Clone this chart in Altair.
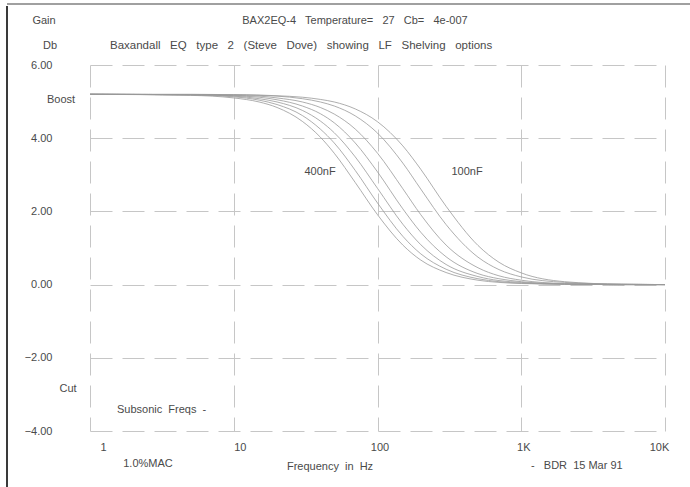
import altair as alt
import pandas as pd

# ---- data ----
freqs = [1, 5, 10, 15, 20, 30, 40, 50, 70, 100, 150, 200, 300, 500, 700, 1000, 2000, 5000, 10000]
cap_labels = ["400nF", "350nF", "300nF", "250nF", "200nF", "150nF", "100nF"]
gain_400 = [5.20, 5.17, 5.10, 4.99, 4.84, 4.46, 4.03, 3.59, 2.79, 1.91, 1.08, 0.67, 0.33, 0.12, 0.06, 0.03, 0.01, 0.00, 0.00]
gain_350 = [5.20, 5.18, 5.13, 5.04, 4.92, 4.62, 4.25, 3.87, 3.12, 2.23, 1.32, 0.84, 0.42, 0.16, 0.08, 0.04, 0.01, 0.00, 0.00]
gain_300 = [5.20, 5.19, 5.15, 5.08, 4.99, 4.76, 4.47, 4.15, 3.49, 2.63, 1.65, 1.09, 0.55, 0.22, 0.11, 0.06, 0.01, 0.00, 0.00]
gain_250 = [5.20, 5.19, 5.16, 5.12, 5.05, 4.88, 4.67, 4.42, 3.87, 3.08, 2.07, 1.43, 0.76, 0.30, 0.16, 0.08, 0.02, 0.00, 0.00]
gain_200 = [5.20, 5.19, 5.17, 5.15, 5.10, 4.99, 4.84, 4.66, 4.25, 3.59, 2.62, 1.91, 1.08, 0.46, 0.24, 0.12, 0.03, 0.01, 0.00]
gain_150 = [5.20, 5.19, 5.19, 5.17, 5.15, 5.08, 4.99, 4.88, 4.61, 4.14, 3.32, 2.61, 1.64, 0.75, 0.41, 0.21, 0.06, 0.01, 0.00]
gain_100 = [5.20, 5.20, 5.19, 5.18, 5.16, 5.12, 5.06, 4.99, 4.80, 4.45, 3.79, 3.15, 2.14, 1.07, 0.61, 0.32, 0.08, 0.01, 0.00]
all_gains = [gain_400, gain_350, gain_300, gain_250, gain_200, gain_150, gain_100]

x_ticks = [1, 10, 100, 1000, 10000]
x_tick_labels = ["1", "10", "100", "1K", "10K"]
y_ticks = [-4, -2, 0, 2, 4, 6]

rows = []
for cap, gains in zip(cap_labels, all_gains):
    for f, g in zip(freqs, gains):
        rows.append({"cap": cap, "freq": f, "gain": g})
df = pd.DataFrame(rows)

# ---- layout ----
FONT = "Liberation Sans"
TXT = "#4a4a4a"
GRID = "#c6c6c6"
W, H = 575, 366
LEFT, TOP = 90, 65
NB = "\u00a0"

label_map = "{" + ",".join(f"'{v}':'{l}'" for v, l in zip(x_ticks, x_tick_labels)) + "}"

lines = alt.Chart(df).mark_line(
    color="#999999", strokeWidth=0.8, interpolate="monotone"
).encode(
    x=alt.X(
        "freq:Q",
        scale=alt.Scale(type="log", domain=[1, 10000], nice=False),
        axis=alt.Axis(
            values=x_ticks,
            labelExpr=label_map + "[datum.value + '']",
            grid=True, gridDash=[22, 10], gridColor=GRID, gridWidth=1,
            domain=False, ticks=False, tickSize=0,
            labelPadding=10, labelFontSize=11, labelFont=FONT, labelColor=TXT,
            labelFlush=False, labelOverlap=False,
            labelOffset={
                "condition": [
                    {"test": "datum.value == 1", "value": 13},
                    {"test": "datum.value == 10", "value": 6},
                    {"test": "datum.value == 10000", "value": -6},
                ],
                "value": 2,
            },
            title=None,
        ),
    ),
    y=alt.Y(
        "gain:Q",
        scale=alt.Scale(domain=[-4, 6], nice=False, zero=False),
        axis=alt.Axis(
            values=y_ticks,
            labelExpr="format(datum.value, '.2f')",
            grid=True, gridDash=[22, 10], gridColor=GRID, gridWidth=1,
            domain=False, ticks=False, tickSize=0,
            labelPadding=38, labelFontSize=11, labelFont=FONT, labelColor=TXT,
            labelAlign="right", labelFlush=False, labelOverlap=False,
            title=None,
        ),
    ),
    detail="cap:N",
)


def sp(s, n):
    """widen word gaps with non-breaking spaces"""
    return (NB * n + " ").join(s.split(" "))


def txt(s, px, py, align="center", size=11):
    return alt.Chart(pd.DataFrame({"t": [s]})).mark_text(
        font=FONT, fontSize=size, color=TXT, align=align, baseline="middle"
    ).encode(text="t:N", x=alt.value(px - LEFT), y=alt.value(py - TOP))


texts = [
    txt("Gain", 44, 21),
    txt("Db", 50, 46),
    txt(sp("BAX2EQ-4 Temperature= 27 Cb= 4e-007", 2), 355, 21),
    txt(sp("Baxandall EQ type 2 (Steve Dove) showing LF Shelving options", 2), 110, 46,
        align="left", size=11.5),
    txt("Boost", 61, 100),
    txt("Cut", 68, 389),
    txt(sp("Subsonic Freqs -", 1), 117, 410, align="left"),
    txt("1.0%MAC", 148, 464),
    txt(sp("Frequency in Hz", 1), 330, 467),
    txt("-" + NB * 2 + " BDR" + NB + " 15 Mar 91", 531, 466, align="left"),
    txt("400nF", 320, 172),
    txt("100nF", 467, 172),
]

one = pd.DataFrame({"k": [0]})
left_border = alt.Chart(one).mark_rule(color="#3a3a3a", strokeWidth=2).encode(
    x=alt.value(7 - LEFT), y=alt.value(6 - TOP), y2=alt.value(487 - TOP)
)
top_border = alt.Chart(one).mark_rule(color="#808080", strokeWidth=1.5).encode(
    x=alt.value(7 - LEFT), x2=alt.value(690 - LEFT), y=alt.value(4 - TOP)
)

chart = alt.layer(lines, *texts, left_border, top_border).properties(
    width=W, height=H,
    autosize=alt.AutoSizeParams(type="none"),
    padding={"left": LEFT, "top": TOP, "right": 690 - LEFT - W, "bottom": 487 - TOP - H},
    background="white",
).configure_view(stroke=None)

chart.save("out.html", embed_options={"renderer": "svg", "actions": False})
